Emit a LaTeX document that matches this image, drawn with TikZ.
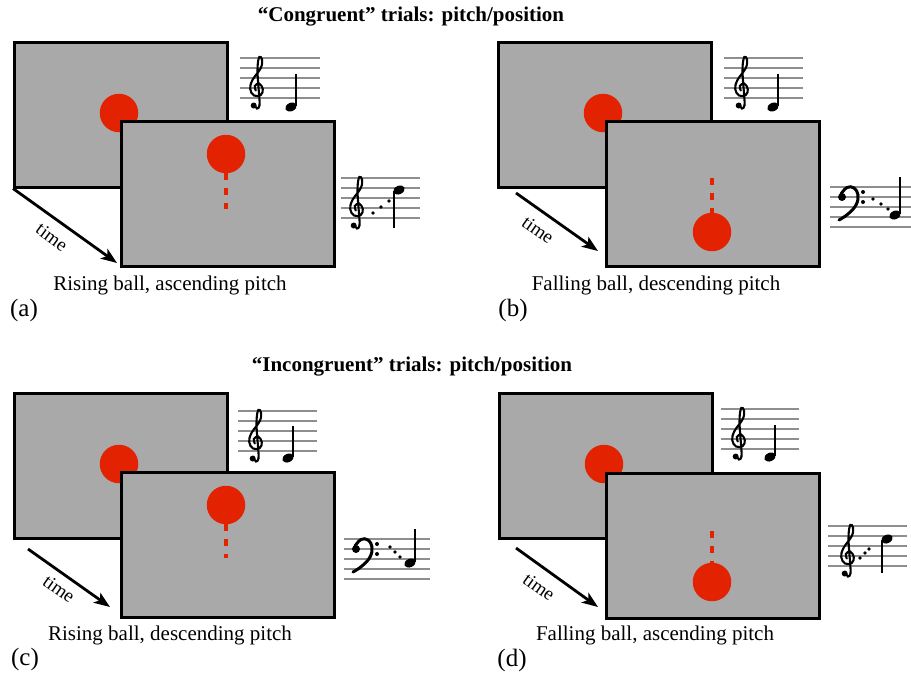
\documentclass[tikz,border=0pt]{standalone}
\usepackage{fontspec}
\setmainfont{Liberation Serif}
\usetikzlibrary{arrows.meta}
\definecolor{ballred}{HTML}{E22200}
\definecolor{screengray}{HTML}{A9A9A9}
\definecolor{staffgray}{HTML}{8E8E8E}
\tikzset{
  screen/.style={draw=black, line width=2.5pt, fill=screengray, minimum width=213pt, minimum height=145pt, inner sep=0pt, anchor=north west},
  ball/.style={circle, fill=ballred, minimum size=38.5pt, inner sep=0pt},
  balldash/.style={draw=ballred, line width=3.6pt, dash pattern=on 7pt off 8pt},
  timearrow/.style={line width=2.8pt, -{Stealth[length=16pt, width=12pt, inset=4pt]}},
  timelabel/.style={font=\fontsize{19}{22}\selectfont, inner sep=0pt},
  caption/.style={font=\fontsize{21}{25}\selectfont, inner sep=0pt},
  plabel/.style={font=\fontsize{25}{30}\selectfont, inner sep=0pt},
  titletext/.style={font=\fontsize{21}{25}\selectfont\bfseries, inner sep=0pt},
  staffline/.style={draw=staffgray, line width=1.6pt},
  treble/.pic={
    \draw[line width=2.1pt, line cap=round] plot[smooth, tension=0.65] coordinates {(-2.5,17) (0,20.5) (2.5,17.5) (2.2,8) (0.8,-10) (0.6,-22) (2.3,-31) (5,-28.5) (3.8,-20) (-4.5,-8) (-6.8,1) (-3,7.5) (3.8,7) (5.8,1) (2.2,-4.5) (-2.2,-2) (-1.2,2.5)};
    \fill (-3.3,17.5) circle (3pt);
  },
  bass/.pic={
    \fill (0,0) circle (4pt);
    \draw[line width=3pt, line cap=round] plot[smooth, tension=0.7] coordinates {(-1,-3) (5,-9.5) (12,-9) (16,-2) (14,8) (6,17) (-3,23)};
    \fill (21,-5) circle (2pt) (21,5) circle (2pt);
  }
}
\newcommand\drawstaff[3]{\foreach \k in {0,1,2,3,4}{\draw[staffline] (#1,#3+10*\k) -- (#2,#3+10*\k);}}
\newcommand\nhead[2]{\fill[rotate around={25:(#1,#2)}] (#1,#2) ellipse [x radius=6, y radius=4.2];}
\newcommand\noteup[3]{\nhead{#1}{#2}\draw[line width=1.7pt] (#1+5.2,#2-1) -- (#1+5.2,#3);}
\newcommand\notedown[3]{\nhead{#1}{#2}\draw[line width=1.7pt] (#1-5.2,#2+1) -- (#1-5.2,#3);}
\newcommand\sdot[2]{\fill (#1,#2) circle (1.8pt);}
\begin{document}
\begin{tikzpicture}[x=1pt, y=-1pt]
\useasboundingbox (0,0) rectangle (911,673);

% titles
\node[titletext] (t1) at (411,17) {“Congruent” trials: pitch/position};
\node[titletext] (t2) at (412,367) {“Incongruent” trials: pitch/position};

% ---------- panel (a)
\node[screen] (a0) at (13,41) {};
\node[ball] (ab0) at (119,113) {};
\node[screen] (a1) at (120,120) {};
\node[ball] (ab1) at (226,154) {};
\coordinate (ad) at (226,209);
\draw[balldash] (ab1.south) -- (ad);
\coordinate (at) at (117,263);
\draw[timearrow] (a0.south west) -- (at);
\node[timelabel, rotate=-36.5] (atime) at (52,237) {time};
\drawstaff{240}{320}{58}
\pic at (257,88) {treble};
\noteup{291}{107}{74}
\drawstaff{341}{420}{178}
\pic at (357,208) {treble};
\sdot{373}{213}\sdot{381}{207}\sdot{389}{201}
\notedown{399}{190}{228}
\node[caption] (acap) at (170,285) {Rising ball, ascending pitch};
\node[plabel] (alab) at (24,310) {(a)};

% ---------- panel (b)
\node[screen] (b0) at (497,41) {};
\node[ball] (bb0) at (603,113) {};
\node[screen] (b1) at (605,120) {};
\node[ball] (bb1) at (712,232) {};
\coordinate (bd) at (712,178);
\draw[balldash] (bd) -- (bb1.north);
\coordinate (bs) at (516,193);
\coordinate (bt) at (598,251);
\draw[timearrow] (bs) -- (bt);
\node[timelabel, rotate=-35.3] (btime) at (538,230) {time};
\drawstaff{724}{803}{58}
\pic at (742,88) {treble};
\noteup{773}{107}{74}
\drawstaff{830}{911}{187}
\pic at (842,197) {bass};
\sdot{873}{199}\sdot{881}{204}\sdot{888}{209}
\noteup{895}{215}{177}
\node[caption] (bcap) at (656,285) {Falling ball, descending pitch};
\node[plabel] (blab) at (513,310) {(b)};

% ---------- panel (c)
\node[screen] (c0) at (13,392) {};
\node[ball] (cb0) at (119,464) {};
\node[screen] (c1) at (120,471) {};
\node[ball] (cb1) at (226,505) {};
\coordinate (cd) at (226,558);
\draw[balldash] (cb1.south) -- (cd);
\coordinate (cs) at (28,549);
\coordinate (ct) at (110,607);
\draw[timearrow] (cs) -- (ct);
\node[timelabel, rotate=-35.3] (ctime) at (59,589) {time};
\drawstaff{238}{317}{411}
\pic at (256,441) {treble};
\noteup{288}{458}{426}
\drawstaff{344}{430}{539}
\pic at (356,549) {bass};
\sdot{390}{547}\sdot{395}{552}\sdot{400}{557}
\noteup{410}{563}{529}
\node[caption] (ccap) at (170,635) {Rising ball, descending pitch};
\node[plabel] (clab) at (25,659) {(c)};

% ---------- panel (d)
\node[screen] (d0) at (498,392) {};
\node[ball] (db0) at (604,464) {};
\node[screen] (d1) at (605,472) {};
\node[ball] (db1) at (712,582) {};
\coordinate (dd) at (712,531);
\draw[balldash] (dd) -- (db1.north);
\coordinate (ds) at (516,548);
\coordinate (dt) at (598,607);
\draw[timearrow] (ds) -- (dt);
\node[timelabel, rotate=-35.7] (dtime) at (539,587) {time};
\drawstaff{721}{799}{409}
\pic at (739,439) {treble};
\noteup{770}{457}{425}
\drawstaff{828}{907}{526}
\pic at (848,556) {treble};
\sdot{860}{558}\sdot{865}{553}\sdot{869}{549}
\notedown{887}{539}{573}
\node[caption] (dcap) at (655,635) {Falling ball, ascending pitch};
\node[plabel] (dlab) at (512,660) {(d)};
\end{tikzpicture}
\end{document}
